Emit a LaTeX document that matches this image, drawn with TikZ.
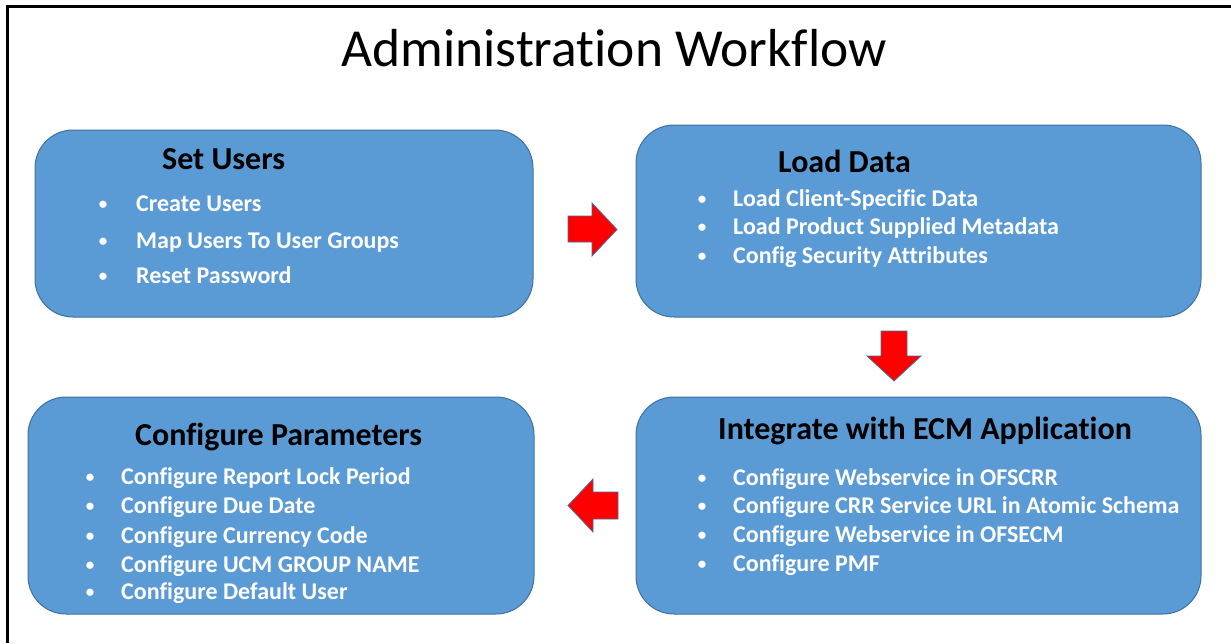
\documentclass[tikz,border=0pt]{standalone}
\usepackage{fontspec}
\setmainfont{Carlito}[RawFeature={-liga;-clig;-dlig}]
\definecolor{boxfill}{HTML}{5B9BD5}
\definecolor{boxline}{HTML}{41719C}
\definecolor{arrred}{HTML}{FF0000}
\begin{document}
\begin{tikzpicture}[x=1pt,y=-1pt,
  stagebox/.style={draw=boxline, line width=1pt, fill=boxfill, rounded corners=38pt, minimum width=#1, inner sep=0pt},
  heading/.style={anchor=base west, inner sep=0pt, font=\fontsize{32}{36}\selectfont\bfseries, text=black},
  itemtext/.style={anchor=base west, inner sep=0pt, font=\fontsize{24}{28}\selectfont\bfseries, text=white},
  dot/.style={anchor=base, inner sep=0pt, font=\fontsize{17}{20}\selectfont\bfseries, text=white},
  blockarrow/.style={fill=arrred, draw=boxline, line width=0.8pt, line join=miter},
  title/.style={anchor=base, inner sep=0pt, font=\fontsize{53.5}{60}\selectfont, text=black}
]
\useasboundingbox (0,0) rectangle (1231,643);
\fill[white] (0,0) rectangle (1231,643);
% frame (cut at right and bottom)
\draw[line width=3pt] (7.5,643) -- (7.5,6.5) -- (1231,6.5);

\node[title] (t) at (614,66) {Administration Workflow};

% boxes
\node[stagebox=498pt, minimum height=187pt] (b1) at (284,223.5) {};
\node[stagebox=565pt, minimum height=192pt] (b2) at (918.5,221) {};
\node[stagebox=565pt, minimum height=217pt] (b3) at (918.5,505.5) {};
\node[stagebox=506pt, minimum height=217pt] (b4) at (281,505.5) {};

% box 1
\node[heading] (h1) at (162,169) {Set Users};
\node[dot] (d11) at (103,209) {•}; \node[itemtext] (i11) at (136,211) {Create Users};
\node[dot] (d12) at (103,246) {•}; \node[itemtext] (i12) at (136,248) {Map Users To User Groups};
\node[dot] (d13) at (103,281) {•}; \node[itemtext] (i13) at (136,283) {Reset Password};

% box 2
\node[heading] (h2) at (778,172) {Load Data};
\node[dot] (d21) at (702,204) {•}; \node[itemtext] (i21) at (733,206) {Load Client-Specific Data};
\node[dot] (d22) at (702,232) {•}; \node[itemtext] (i22) at (733,234) {Load Product Supplied Metadata};
\node[dot] (d23) at (702,261) {•}; \node[itemtext] (i23) at (733,263) {Config Security Attributes};

% box 3
\node[heading] (h3) at (718,439) {Integrate with ECM Application};
\node[dot] (d31) at (702,483) {•}; \node[itemtext] (i31) at (733,485) {Configure Webservice in OFSCRR};
\node[dot] (d32) at (702,511) {•}; \node[itemtext] (i32) at (733,513) {Configure CRR Service URL in Atomic Schema};
\node[dot] (d33) at (702,540) {•}; \node[itemtext] (i33) at (733,542) {Configure Webservice in OFSECM};
\node[dot] (d34) at (702,569) {•}; \node[itemtext] (i34) at (733,571) {Configure PMF};

% box 4
\node[heading] (h4) at (135,445) {Configure Parameters};
\node[dot] (d41) at (90,482) {•}; \node[itemtext] (i41) at (121,484) {Configure Report Lock Period};
\node[dot] (d42) at (90,511) {•}; \node[itemtext] (i42) at (121,513) {Configure Due Date};
\node[dot] (d43) at (90,541) {•}; \node[itemtext] (i43) at (121,543) {Configure Currency Code};
\node[dot] (d44) at (90,570) {•}; \node[itemtext] (i44) at (121,572) {Configure UCM GROUP NAME};
\node[dot] (d45) at (90,597) {•}; \node[itemtext] (i45) at (121,599) {Configure Default User};

% block arrows
\draw[blockarrow] (568,216) -- (592,216) -- (592,203) -- (617,229.5) -- (592,256) -- (592,242) -- (568,242) -- cycle;
\draw[blockarrow] (881,331) -- (907,331) -- (907,356) -- (921,356) -- (894,381) -- (867,356) -- (881,356) -- cycle;
\draw[blockarrow] (618,492) -- (593,492) -- (593,479) -- (568,505.5) -- (593,532) -- (593,519) -- (618,519) -- cycle;
\end{tikzpicture}
\end{document}
